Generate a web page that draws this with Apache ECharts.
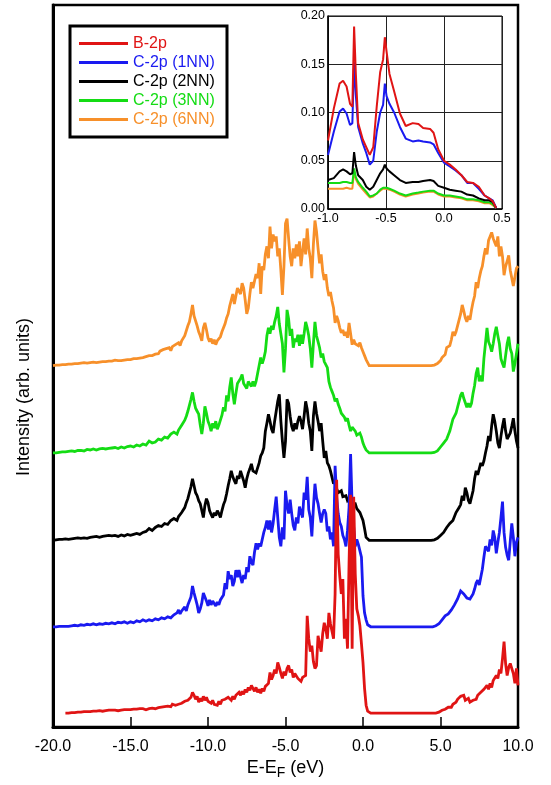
<!DOCTYPE html>
<html><head><meta charset="utf-8">
<script src="https://cdn.jsdelivr.net/npm/echarts@6.0.0/dist/echarts.min.js"></script>
<style>html,body{margin:0;padding:0;background:#fff}#c{width:551px;height:785px}</style>
</head><body><div id="c"></div>
<script>
// ---- data ----
const seriesNames = ['B-2p','C-2p (1NN)','C-2p (2NN)','C-2p (3NN)','C-2p (6NN)'];
const colors = ['#e01414','#1a1af0','#000000','#14dc14','#f7902a'];
// vertical offsets of the stacked curves (arb. units)
const offsets = [14,101,188,276,364];
const xTickLabels = ['-20.0','-15.0','-10.0','-5.0','0.0','5.0','10.0'];

const energy = [
-20,-19.9,-19.8,-19.7,-19.6,-19.5,-19.4,-19.3,-19.2,-19.1,
-19,-18.9,-18.8,-18.7,-18.6,-18.5,-18.4,-18.3,-18.2,-18.1,
-18,-17.9,-17.8,-17.7,-17.6,-17.5,-17.4,-17.3,-17.2,-17.1,
-17,-16.9,-16.8,-16.7,-16.6,-16.5,-16.4,-16.3,-16.2,-16.1,
-16,-15.9,-15.8,-15.7,-15.6,-15.5,-15.4,-15.3,-15.2,-15.1,
-15,-14.9,-14.8,-14.7,-14.6,-14.5,-14.4,-14.3,-14.2,-14.1,
-14,-13.9,-13.8,-13.7,-13.6,-13.5,-13.4,-13.3,-13.2,-13.1,
-13,-12.9,-12.8,-12.7,-12.6,-12.5,-12.4,-12.3,-12.2,-12.1,
-12,-11.9,-11.8,-11.7,-11.6,-11.5,-11.4,-11.3,-11.2,-11.1,
-11,-10.9,-10.8,-10.7,-10.6,-10.5,-10.4,-10.3,-10.2,-10.1,
-10,-9.9,-9.8,-9.7,-9.6,-9.5,-9.4,-9.3,-9.2,-9.1,
-9,-8.9,-8.8,-8.7,-8.6,-8.5,-8.4,-8.3,-8.2,-8.1,
-8,-7.9,-7.8,-7.7,-7.6,-7.5,-7.4,-7.3,-7.2,-7.1,
-7,-6.9,-6.8,-6.7,-6.6,-6.5,-6.4,-6.3,-6.2,-6.1,
-6,-5.9,-5.8,-5.7,-5.6,-5.5,-5.4,-5.3,-5.2,-5.1,
-5,-4.9,-4.8,-4.7,-4.6,-4.5,-4.4,-4.3,-4.2,-4.1,
-4,-3.9,-3.8,-3.7,-3.6,-3.5,-3.4,-3.3,-3.2,-3.1,
-3,-2.9,-2.8,-2.7,-2.6,-2.5,-2.4,-2.3,-2.2,-2.1,
-2,-1.9,-1.8,-1.7,-1.6,-1.5,-1.4,-1.3,-1.2,-1.1,
-1,-0.9,-0.8,-0.7,-0.6,-0.5,-0.4,-0.3,-0.2,-0.1,
0,0.1,0.2,0.3,0.4,0.5,0.6,0.7,0.8,0.9,
1,1.1,1.2,1.3,1.4,1.5,1.6,1.7,1.8,1.9,
2,2.1,2.2,2.3,2.4,2.5,2.6,2.7,2.8,2.9,
3,3.1,3.2,3.3,3.4,3.5,3.6,3.7,3.8,3.9,
4,4.1,4.2,4.3,4.4,4.5,4.6,4.7,4.8,4.9,
5,5.1,5.2,5.3,5.4,5.5,5.6,5.7,5.8,5.9,
6,6.1,6.2,6.3,6.4,6.5,6.6,6.7,6.8,6.9,
7,7.1,7.2,7.3,7.4,7.5,7.6,7.7,7.8,7.9,
8,8.1,8.2,8.3,8.4,8.5,8.6,8.7,8.8,8.9,
9,9.1,9.2,9.3,9.4,9.5,9.6,9.7,9.8,9.9,
10];

const dosB2p = [
null,null,null,null,null,null,null,null,0,0.5,
0,1,0.5,1,0.5,1.5,1,1.5,1,2,
1.5,2.5,1.5,2,1.5,2.5,2,3,2,3,
2.5,3,2,3.5,2.5,3.5,3,4,3,3.5,
3,4,2.5,3.5,3,4.5,3.5,4.5,3.5,5,
3.5,5,4,5.5,4,5,4.5,6,4.5,5.5,
3.5,5,4.5,6,5,6.5,4.5,6,5.5,7,
6,7.5,6.5,8,7,8.5,6.5,9,7,8,
6,9,7,10,8,12,10,13,12,16,
21,18,14,17,11,15,12,17,13,16,
12,14,10,13,9,11,8,12,9,13,
11,14,12,16,15,13,17,14,18,16,
21,18,22,19,24,21,26,23,28,25,
22,26,21,24,20,25,22,27,25,30,
41,34,38,44,40,51,46,40,35,42,
38,45,48,41,44,36,40,38,35,36,
32,36,35,38,98,75,62,68,52,45,
48,78,70,62,80,91,85,75,101,90,
88,75,120,235,160,138,120,135,75,95,
65,151,220,65,218,140,105,98,88,70,
51,25,8,2,0,0,0,0,0,0,
0,0,0,0,0,0,0,0,0,0,
0,0,0,0,0,0,0,0,0,0,
0,0,0,0,0,0,0,0,0,0,
0,0,0,0,0,0,0,0,0.5,1,
1.5,3,2.5,4,5,6,7,6,9,8,
11,14,12,17,15,18,13,12,15,11,
10,13,15,14,18,17,21,19,24,22,
28,24,30,26,33,31,38,35,44,40,
55,72,50,38,46,50,52,40,30,45,
28];

const dos1NN = [
0,0.5,0,1,0.5,1,0.5,1.5,0.5,1,
0.5,1.5,1,2,1.5,2,1,2.5,2,2.5,
1.5,3,2.5,3,2,3.5,3,4,2,3,
3,4,2.5,3.5,3.5,4.5,3,4,4,5,
3,4.5,4.5,5.5,4,5,5,6,3.5,5,
5,6,4,5.5,6,7,5,6.5,7,8,
5.5,7,7,8.5,6,7.5,8,9,7,9,
9,10.5,8,10,10,11.5,9,11,12,14,
14,17,13,16,18,20,16,22,24,30,
41,34,28,22,14,18,24,34,30,26,
21,27,22,26,24,21,25,22,27,28,
32,44,38,56,48,52,41,46,57,50,
57,50,44,52,48,60,55,71,65,62,
75,84,78,84,81,88,95,100,107,98,
107,95,104,118,131,110,90,81,100,88,
137,122,114,128,114,102,97,110,104,121,
121,110,135,128,151,118,110,91,120,144,
130,124,114,105,114,118,114,96,101,88,
95,81,162,130,114,105,101,92,88,81,
97,120,174,121,100,81,88,83,81,70,
31,14,7,2,0,0,0,0,0,0,
0,0,0,0,0,0,0,0,0,0,
0,0,0,0,0,0,0,0,0,0,
0,0,0,0,0,0,0,0,0,0,
0,0,0,0,0,0,0.5,1,1.5,3,
5,7,8,11,10,13,14,17,18,22,
24,28,30,36,37,33,34,29,30,28,
26,33,38,44,47,42,44,58,70,81,
81,76,88,82,97,90,74,85,95,110,
126,95,80,72,67,86,104,90,71,85,
90];

const dos2NN = [
0,0.5,0.5,0,1,0.5,1,0.5,1.5,1,
1,2,1.5,1,2,1.5,2.5,1.5,2,2.5,
2.5,3,2,3,3,2.5,3.5,3,4,3.5,
3,4,4,3.5,4.5,4,5,4,4.5,5,
5,4.5,4,5,5.5,6,4.5,6,6,7,
5,6.5,6,7,7,8,6,7.5,8,9.5,
9,11,12,10,10,12,13,14,15,14,
14,16,17,15,16,18,20,19,22,21,
20,24,22,28,30,33,38,42,48,54,
62,55,48,45,40,37,30,23,35,42,
38,30,26,23,28,25,30,27,23,30,
36,40,47,55,62,70,64,60,57,65,
62,70,65,60,53,62,68,72,77,70,
72,68,70,78,85,88,93,110,118,127,
120,112,108,120,130,140,147,120,100,83,
100,142,138,125,115,110,118,112,120,125,
120,112,125,140,132,118,110,90,125,140,
128,120,110,118,100,83,90,78,75,70,
68,57,60,52,48,47,50,44,42,45,
40,38,43,37,36,37,32,30,28,24,
20,12,3,1,0,0,0,0,0,0,
0,0,0,0,0,0,0,0,0,0,
0,0,0,0,0,0,0,0,0,0,
0,0,0,0,0,0,0,0,0,0,
0,0,0,0,0,0,0.5,1,2,3,
5,7,8,10,13,12,17,15,20,22,
28,30,33,36,45,40,53,48,40,37,
37,50,62,70,66,72,78,75,80,88,
95,105,100,115,127,120,110,98,93,105,
115,123,110,102,100,108,115,123,110,100,
93];

const dos3NN = [
0,0.5,0,1,0.5,1,1,1.5,1,2,
1.5,1,2,2.5,1.5,2,2.5,3,2.5,3,
2,3,3.5,2.5,3,3.5,4,3.5,3,4,
4,3.5,4.5,5,4,5,4.5,5.5,5,6,
5.5,5,4.5,6,6,7,5,6,6.5,7.5,
7,8,6,7,8,9.5,7,8.5,9,10,
8,10,12,11,10,12,11,13,14,15,
13,15,16,14,15,17,19,18,21,20,
19,23,22,28,29,33,37,42,48,54,
61,52,45,42,39,28,19,30,47,40,
32,28,22,30,25,32,24,28,33,38,
46,42,58,52,66,76,60,49,60,70,
70,75,79,70,68,65,72,70,67,72,
67,72,80,88,96,90,95,102,118,126,
120,128,124,132,138,147,130,120,110,81,
105,144,135,118,125,106,115,112,119,108,
119,110,120,132,126,118,105,86,110,132,
118,112,106,96,100,92,90,86,72,66,
62,58,52,55,49,45,40,42,36,32,
35,28,22,26,24,22,18,16,20,16,
10,6,3,1,0,0,0,0,0,0,
0,0,0,0,0,0,0,0,0,0,
0,0,0,0,0,0,0,0,0,0,
0,0,0,0,0,0,0,0,0,0,
0,0,0,0,0,0,0.5,1,2,3,
6,8,10,12,14,18,22,28,34,36,
40,46,52,58,61,55,56,46,50,46,
50,60,68,80,86,72,78,72,95,110,
126,112,108,102,110,120,127,118,110,95,
90,86,98,110,117,105,100,82,90,100,
110];

const dos6NN = [
0,1,0.5,1.5,0.5,1.5,1,2,1,2,
1.5,2.5,1.5,2.5,2,3,2,3,2.5,3.5,
3,4,2.5,3.5,3,4.5,3.5,4,3,4.5,
3.5,5,4,5.5,4,5,4.5,6,4.5,5.5,
5.5,6.5,5,6,5,7,5.5,6.5,6,7.5,
6,8,7,8.5,7,9,7.5,9.5,8,10,
9,11,10,12,10,11,11.5,13,12,14.5,
13,16,14,17,15,18,15,19,17,21,
19,23,20,25,24,30,32,40,44,52,
61,50,52,40,34,30,25,38,43,36,
28,24,27,22,26,21,25,23,29,34,
36,42,48,52,60,66,72,62,70,78,
80,72,83,78,66,52,58,72,84,78,
80,92,88,103,72,100,96,112,120,108,
140,118,132,125,130,110,118,96,71,100,
143,148,128,110,100,118,108,122,110,125,
100,115,128,112,138,118,108,88,122,146,
135,118,103,112,95,86,92,78,70,74,
65,58,43,50,45,38,33,36,30,34,
28,43,32,21,26,22,24,20,23,18,
14,10,6,3,0,0,0,0,0,0,
0,0,0,0,0,0,0,0,0,0,
0,0,0,0,0,0,0,0,0,0,
0,0,0,0,0,0,0,0,0,0,
0,0,0,0,0,0,0.5,1,2,3,
5,8,7,11,18,16,20,26,34,30,
34,40,38,52,61,55,48,44,50,46,
56,64,70,84,78,88,95,100,110,118,
112,126,130,134,128,124,120,130,110,120,
110,91,100,105,111,96,95,80,78,98,
100];

// inset (zoom near E_F)
const insetEnergy = [-1.0,-0.95,-0.9,-0.87,-0.84,-0.81,-0.79,-0.775,-0.76,-0.74,-0.7,-0.67,-0.64,-0.61,-0.58,-0.55,-0.525,-0.51,-0.495,-0.47,-0.43,-0.38,-0.33,-0.27,-0.22,-0.18,-0.12,-0.09,-0.05,0.0,0.05,0.1,0.15,0.2,0.25,0.3,0.35,0.39,0.42,0.45];
const insetB2p = [0.071,0.104,0.130,0.133,0.127,0.109,0.106,0.189,0.140,0.089,0.072,0.064,0.056,0.064,0.106,0.142,0.155,0.178,0.163,0.140,0.122,0.099,0.086,0.089,0.088,0.084,0.083,0.079,0.062,0.050,0.046,0.041,0.035,0.028,0.027,0.023,0.014,0.011,0.008,0.001];
const inset1NN = [0.056,0.080,0.101,0.104,0.099,0.087,0.089,0.152,0.118,0.085,0.068,0.058,0.046,0.050,0.080,0.100,0.108,0.130,0.117,0.109,0.100,0.085,0.073,0.070,0.071,0.070,0.069,0.067,0.058,0.048,0.044,0.040,0.035,0.027,0.027,0.021,0.014,0.011,0.009,0.001];
const inset2NN = [0.030,0.032,0.039,0.041,0.039,0.036,0.037,0.059,0.045,0.035,0.030,0.023,0.020,0.023,0.030,0.037,0.041,0.046,0.042,0.039,0.035,0.030,0.027,0.028,0.028,0.029,0.030,0.029,0.024,0.022,0.020,0.019,0.018,0.015,0.014,0.011,0.009,0.009,0.007,0.001];
const inset3NN = [0.027,0.027,0.027,0.028,0.028,0.027,0.027,0.042,0.033,0.028,0.022,0.018,0.013,0.014,0.016,0.020,0.022,0.023,0.022,0.021,0.019,0.016,0.014,0.016,0.017,0.018,0.019,0.019,0.016,0.014,0.014,0.013,0.012,0.010,0.010,0.009,0.007,0.007,0.005,0.001];
const inset6NN = [0.021,0.021,0.021,0.021,0.022,0.021,0.021,0.040,0.031,0.026,0.020,0.016,0.012,0.013,0.016,0.019,0.021,0.022,0.021,0.020,0.018,0.015,0.013,0.015,0.016,0.017,0.018,0.018,0.015,0.013,0.013,0.012,0.011,0.009,0.009,0.008,0.006,0.006,0.004,0.001];

// ---- chart ----
const FONT = '"Liberation Sans", Arial, Helvetica, sans-serif';
const mainSets = [dosB2p, dos1NN, dos2NN, dos3NN, dos6NN];
const insetSets = [insetB2p, inset1NN, inset2NN, inset3NN, inset6NN];

const series = [];
mainSets.forEach((arr, k) => {
  series.push({
    type: 'line', name: seriesNames[k], xAxisIndex: 0, yAxisIndex: 0,
    symbol: 'none', showSymbol: false,
    lineStyle: { color: colors[k], width: 2.8, join: 'miter', miterLimit: 2 }, itemStyle: { color: colors[k] },
    z: 10 - k,
    data: energy.map((e, i) => arr[i] == null ? [e, '-'] : [e, arr[i] + offsets[k]])
  });
});
insetSets.forEach((arr, k) => {
  series.push({
    type: 'line', name: seriesNames[k], xAxisIndex: 1, yAxisIndex: 1,
    symbol: 'none', showSymbol: false,
    lineStyle: { color: colors[k], width: 2 }, itemStyle: { color: colors[k] },
    z: 30 - k,
    data: insetEnergy.map((e, i) => [e, arr[i]])
  });
});

const chart = echarts.init(document.getElementById('c'), null, { renderer: 'canvas' });
chart.setOption({
  animation: false,
  backgroundColor: '#fff',
  textStyle: { fontFamily: FONT },
  grid: [
    { left: 53, top: 5, width: 465, height: 727, show: true, borderColor: '#000', borderWidth: 2.5, backgroundColor: 'transparent' },
    { left: 328, top: 16, width: 174, height: 193, show: true, borderColor: '#000', borderWidth: 1, backgroundColor: '#fff', z: 20 }
  ],
  xAxis: [
    { gridIndex: 0, type: 'value', min: -20, max: 10, interval: 5,
      axisLine: { onZero: false, lineStyle: { color: '#000', width: 3 } },
      axisTick: { inside: true, length: 10, lineStyle: { color: '#000', width: 1.5 } },
      axisLabel: { color: '#000', fontSize: 16, margin: 11, fontFamily: FONT,
        formatter: v => xTickLabels[Math.round((v + 20) / 5)] },
      splitLine: { show: false },
      name: '{a|E-E}{b|F}{a| (eV)}', nameLocation: 'middle', nameGap: 28,
      nameTextStyle: { rich: {
        a: { fontSize: 18, color: '#000', fontFamily: FONT, lineHeight: 24, verticalAlign: 'middle' },
        b: { fontSize: 14, color: '#000', fontFamily: FONT, lineHeight: 24, verticalAlign: 'bottom' }
      } }
    },
    { gridIndex: 1, type: 'value', min: -1, max: 0.5, interval: 0.5, z: 21,
      axisLine: { onZero: false, lineStyle: { color: '#000', width: 1.5 } },
      axisTick: { show: false },
      axisLabel: { color: '#000', fontSize: 12.5, margin: 3, fontFamily: FONT, formatter: v => v.toFixed(1) },
      splitLine: { show: true, lineStyle: { color: '#222', width: 1 } }
    }
  ],
  yAxis: [
    { gridIndex: 0, type: 'value', min: 0, max: 727,
      axisLine: { onZero: false, lineStyle: { color: '#000', width: 3 } },
      axisTick: { show: false }, axisLabel: { show: false }, splitLine: { show: false }
    },
    { gridIndex: 1, type: 'value', min: 0, max: 0.2, interval: 0.05, z: 21,
      axisLine: { show: true, onZero: false, lineStyle: { color: '#000', width: 1.5 } },
      axisTick: { show: false },
      axisLabel: { color: '#000', fontSize: 12.5, margin: 3, fontFamily: FONT, formatter: v => v.toFixed(2) },
      splitLine: { show: true, lineStyle: { color: '#222', width: 1 } }
    }
  ],
  legend: {
    orient: 'vertical', left: 79, top: 34, padding: 0, itemGap: 0,
    itemWidth: 49, itemHeight: 3, icon: 'rect', selectedMode: false,
    textStyle: { fontSize: 16, lineHeight: 19, fontFamily: FONT },
    data: seriesNames.map((n, k) => ({ name: n, textStyle: { color: colors[k] } }))
  },
  graphic: [
    { type: 'rect', z: 100, shape: { x: 70, y: 26, width: 157, height: 111 },
      style: { fill: 'none', stroke: '#000', lineWidth: 3 } },
    { type: 'text', z: 100, x: 24, y: 397, rotation: Math.PI / 2,
      style: { text: 'Intensity (arb. units)', fontSize: 18, fontFamily: FONT, fill: '#000', align: 'center', verticalAlign: 'middle' } }
  ],
  series: series
});
</script></body></html>
